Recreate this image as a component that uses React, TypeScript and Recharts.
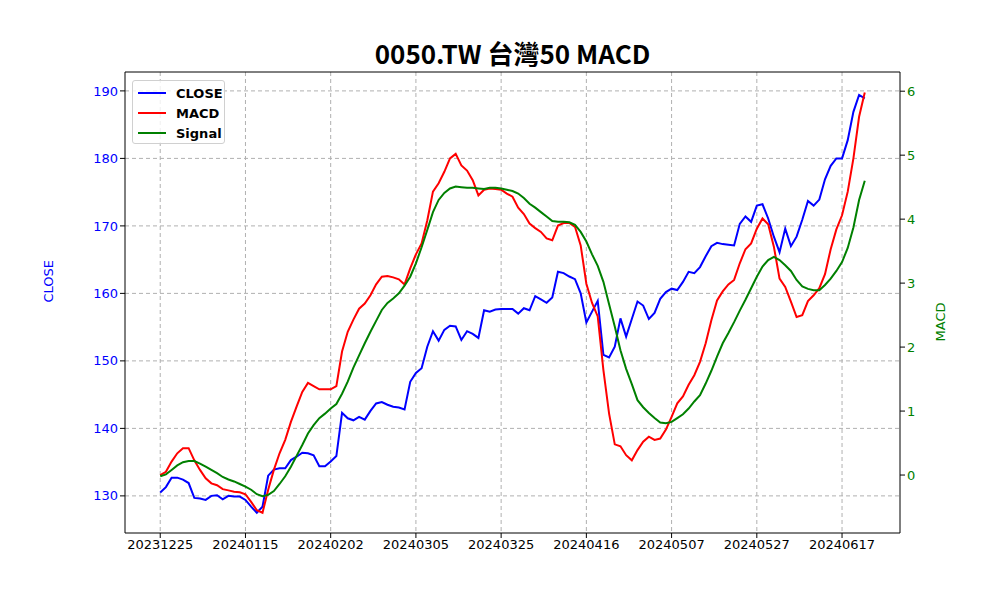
import React from 'react';
import { LineChart, Line, XAxis, YAxis, CartesianGrid, Legend, ReferenceLine } from 'recharts';

const tickIdx = [0, 15, 30, 45, 60, 75, 90, 105, 120];
const tickLabels = ['20231225', '20240115', '20240202', '20240305', '20240325', '20240416', '20240507', '20240527', '20240617'];

const close = [
  130.5,131.3,132.7,132.7,132.4,131.9,129.7,129.6,129.4,130.0,130.1,129.5,130.0,129.9,129.9,129.4,128.4,127.5,
  128.4,133.0,133.9,134.1,134.1,135.3,135.8,136.4,136.3,136.0,134.4,134.4,
  135.1,135.9,142.3,141.5,141.2,141.7,141.3,142.6,143.7,143.9,143.5,143.2,143.1,142.8,146.9,148.2,148.9,152.1,154.4,153.0,154.6,155.2,155.1,153.1,154.4,154.0,153.4,157.5,157.3,157.6,157.7,157.7,
  157.7,157.0,157.8,157.5,159.6,159.1,158.6,159.4,163.2,163.0,162.5,162.1,160.0,155.7,157.3,158.9,150.9,150.5,152.1,156.3,153.6,156.2,158.8,158.2,156.2,157.1,159.2,160.2,160.7,160.5,161.7,163.2,
  163.0,
  163.9,165.5,167.0,167.5,167.3,167.2,167.1,170.3,171.4,170.6,173.0,173.2,171.1,168.4,166.1,169.6,167.0,168.4,170.9,173.7,173.0,173.9,176.9,178.9,180.0,180.0,182.7,186.9,189.4,188.9,
];

const macd = [
  0.00,0.05,0.21,0.34,0.42,0.42,0.23,0.08,-0.05,-0.13,-0.16,-0.22,-0.24,-0.26,-0.27,-0.30,-0.42,-0.55,-0.59,-0.23,0.08,0.34,0.55,0.83,1.07,1.30,1.44,1.39,1.34,1.34,
  1.34,1.39,1.93,2.24,2.43,2.60,2.68,2.81,2.98,3.10,3.11,3.09,3.06,2.98,3.23,3.45,3.62,3.98,4.43,4.56,4.74,4.95,5.02,4.84,4.76,4.61,4.37,4.46,4.48,4.47,4.46,4.40,
  4.35,4.18,4.08,3.93,3.86,3.80,3.70,3.67,3.90,3.94,3.94,3.88,3.59,2.99,2.69,2.48,1.64,0.96,0.48,0.45,0.31,0.23,0.39,0.52,0.60,0.55,0.57,0.71,0.91,1.12,1.23,1.41,
  1.56,1.77,2.06,2.42,2.73,2.87,2.98,3.05,3.31,3.53,3.62,3.85,4.01,3.92,3.57,3.07,2.94,2.71,2.47,2.50,2.72,2.81,2.92,3.14,3.53,3.84,4.06,4.43,4.95,5.60,5.98,
];

const signal = [
  -0.02,0.01,0.08,0.15,0.20,0.22,0.22,0.18,0.13,0.08,0.03,-0.03,-0.07,-0.10,-0.14,-0.18,-0.23,-0.30,-0.33,-0.31,-0.25,-0.14,-0.02,0.13,0.30,0.47,0.65,0.78,0.89,0.96,
  1.04,1.11,1.27,1.46,1.68,1.87,2.06,2.24,2.41,2.58,2.69,2.76,2.84,2.96,3.10,3.31,3.56,3.83,4.11,4.30,4.41,4.48,4.51,4.50,4.49,4.49,4.48,4.47,4.49,4.49,4.48,4.46,
  4.44,4.40,4.33,4.24,4.18,4.11,4.04,3.97,3.96,3.96,3.95,3.91,3.80,3.65,3.45,3.27,3.02,2.67,2.32,1.95,1.66,1.42,1.17,1.06,0.97,0.89,0.82,0.81,0.83,0.89,0.95,1.04,
  1.15,1.25,1.43,1.63,1.85,2.06,2.22,2.39,2.57,2.74,2.92,3.10,3.26,3.36,3.41,3.36,3.28,3.19,3.05,2.95,2.91,2.89,2.89,2.97,3.07,3.19,3.33,3.55,3.87,4.30,4.60,
];

const leftTicks = [130, 140, 150, 160, 170, 180, 190];
const rightTicks = [0, 1, 2, 3, 4, 5, 6];

const data = close.map((c, i) => ({ i, close: c, macd: macd[i], signal: signal[i] }));

const FONT = '"DejaVu Sans", sans-serif';

const LegendBox = () => (
  <div style={{ position: 'absolute', left: 132, top: 80, width: 93, height: 64, border: '1px solid #d0d0d0', borderRadius: 3, background: 'rgba(255,255,255,0.8)', fontFamily: FONT, fontWeight: 'bold', fontSize: 13, boxSizing: 'border-box', padding: '2px 0 0 5px' }}>
    {[['CLOSE', 'blue'], ['MACD', 'red'], ['Signal', 'green']].map(([n, c]) => (
      <div key={n} style={{ display: 'flex', alignItems: 'center', height: 20 }}>
        <div style={{ width: 28, height: 2, background: c, marginRight: 10 }} />
        <span>{n}</span>
      </div>
    ))}
  </div>
);

export default function App() {
  return (
    <div style={{ position: 'absolute', left: 0, top: 0, width: 1000, height: 600, background: '#fff' }}>
      <div style={{ position: 'absolute', top: 34, left: 0, width: 1025, textAlign: 'center', fontFamily: '"Noto Sans CJK TC", "Noto Sans", sans-serif', fontWeight: 'bold', fontSize: 26 }}>
        0050.TW 台灣50 MACD
      </div>
      <LineChart width={1000} height={600} data={data} margin={{ top: 72, right: 0, bottom: 37, left: 0 }}>
        <CartesianGrid yAxisId="left" stroke="#b0b0b0" strokeDasharray="4 3" verticalValues={tickIdx} horizontalValues={leftTicks} />
        <XAxis dataKey="i" type="number" domain={[-6.2, 130.2]} ticks={tickIdx} tickFormatter={(v) => tickLabels[tickIdx.indexOf(v)]} height={30} stroke="#000" tick={{ fill: '#000', fontSize: 13, fontFamily: FONT }} tickSize={5} allowDataOverflow />
        <YAxis yAxisId="left" orientation="left" width={125} domain={[124.5, 192.8]} ticks={leftTicks} stroke="#000" tick={{ fill: 'blue', fontSize: 13, fontFamily: FONT }} tickSize={5} allowDataOverflow
          label={{ value: 'CLOSE', angle: -90, position: 'insideLeft', offset: 48, fill: 'blue', fontSize: 13, fontFamily: FONT }} />
        <YAxis yAxisId="right" orientation="right" width={100} domain={[-0.906, 6.3]} ticks={rightTicks} stroke="#000" tick={{ fill: 'green', fontSize: 13, fontFamily: FONT }} tickSize={5} allowDataOverflow
          label={{ value: 'MACD', angle: -90, position: 'insideRight', offset: 60, fill: 'green', fontSize: 13, fontFamily: FONT }} />
        <ReferenceLine yAxisId="left" y={192.8} stroke="#000" />
        <Line yAxisId="left" dataKey="close" stroke="blue" strokeWidth={2} dot={false} isAnimationActive={false} />
        <Line yAxisId="right" dataKey="macd" stroke="red" strokeWidth={2} dot={false} isAnimationActive={false} />
        <Line yAxisId="right" dataKey="signal" stroke="green" strokeWidth={2} dot={false} isAnimationActive={false} />
      </LineChart>
      <LegendBox />
    </div>
  );
}
